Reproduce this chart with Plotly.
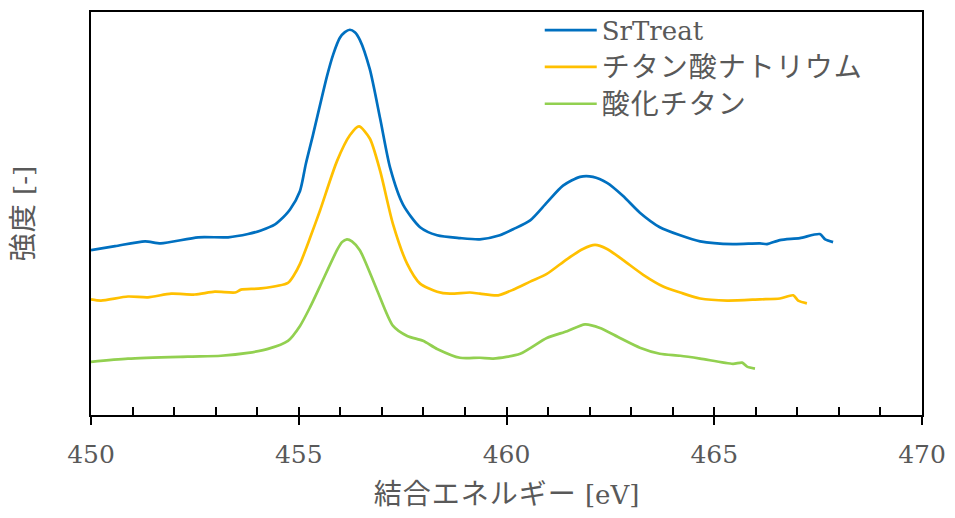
import plotly.graph_objects as go

# Binding energy (eV) and intensity (a.u., vertically offset) for each sample
sr_energy = [450.00, 450.58, 451.30, 451.68, 452.58, 453.30, 453.78, 454.09, 454.43, 454.55,
             454.79, 455.03, 455.17, 455.34, 455.68, 455.83, 455.99, 456.11, 456.23, 456.35,
             456.47, 456.71, 456.96, 457.20, 457.51,
             457.92, 458.33, 458.88, 459.36, 459.84, 460.16, 460.57, 460.97, 461.36, 461.77,
             462.08, 462.42, 462.80, 463.21, 463.69, 464.18, 464.66, 465.45, 466.10, 466.27,
             466.58, 467.06, 467.54, 467.67, 467.86]
sr_intensity = [40.9, 41.9, 43.1, 42.6, 44.1, 44.1, 44.9, 45.8, 47.3, 48.3,
                51.0, 55.6, 62.3, 69.4, 84.1, 89.5, 93.6, 95.0, 95.6, 95.0,
                93.1, 85.8, 73.5, 61.3, 52.2,
                46.6, 44.6, 43.9, 43.6, 44.6, 46.1, 48.3, 52.7, 56.9, 59.1,
                59.1, 57.6, 54.4, 50.2, 46.6, 44.6, 43.1, 42.4, 42.6, 42.4,
                43.4, 43.9, 44.9, 43.6, 42.9]

nato_energy = [450.00, 450.24, 450.89, 451.37, 451.93, 452.50, 452.98, 453.47, 453.61, 454.09,
               454.74, 454.89, 455.03, 455.27, 455.51, 455.92, 456.23, 456.45, 456.71, 456.96,
               457.27, 457.61,
               457.92, 458.33, 458.64, 459.12, 459.36, 459.80, 460.16, 460.57, 460.97, 461.46,
               461.84, 462.13, 462.42, 462.80, 463.29, 463.77, 464.18, 464.66, 465.31, 466.10,
               466.58, 466.90, 467.02, 467.23]
nato_intensity = [28.7, 28.4, 29.4, 29.2, 30.1, 29.9, 30.6, 30.4, 31.1, 31.4,
                  32.8, 34.8, 37.5, 43.9, 50.7, 63.0, 69.4, 71.6, 68.6, 60.5,
                  47.3, 37.5,
                  32.6, 30.6, 30.1, 30.4, 30.1, 29.7, 31.1, 33.1, 35.0, 38.7,
                  41.2, 42.2, 41.2, 38.5, 34.8, 31.9, 30.4, 28.9, 28.4, 28.7,
                  28.9, 29.7, 28.4, 27.7]

tio2_energy = [450.00, 450.89, 452.33, 453.13, 453.78, 454.26, 454.74, 455.03, 455.27, 455.51,
               455.92, 456.04, 456.16, 456.28, 456.47, 456.88, 457.27, 457.61, 457.99, 458.33,
               458.88, 459.36, 459.68,
               460.33, 460.97, 461.46, 461.89, 462.25, 462.73, 463.21, 463.69, 464.18, 464.66,
               465.45, 465.67, 465.79, 465.98]
tio2_intensity = [13.2, 14.0, 14.5, 14.7, 15.4, 16.4, 18.4, 22.1, 26.7, 31.9,
                  40.9, 42.9, 43.6, 43.1, 40.9, 31.1, 22.1, 19.6, 18.4, 16.4,
                  14.2, 14.2, 14.0,
                  15.2, 19.1, 20.8, 22.5, 21.6, 19.1, 16.7, 15.2, 14.7, 14.0,
                  12.7, 13.0, 12.0, 11.5]

series_names = ["SrTreat", "チタン酸ナトリウム", "酸化チタン"]
series_colors = ["#0070C0", "#FFC000", "#92D050"]

x_title = "結合エネルギー"
x_unit = " [eV]"
y_title = "強度"
y_unit = " [-]"
x_ticks = [450, 455, 460, 465, 470]

FONT = "DejaVu Serif, Noto Sans CJK JP, serif"
TEXT_COLOR = "#595959"
CJK_STYLE = "font-size:28px;letter-spacing:1px"


def cjk(text):
    """Wrap Japanese text so it is set a little larger and wider than Latin text."""
    if any(ord(ch) > 0x2E80 for ch in text):
        return f"<span style='{CJK_STYLE}'>{text}</span>"
    return text


fig = go.Figure()
for name, xs, ys, col in zip(series_names,
                             [sr_energy, nato_energy, tio2_energy],
                             [sr_intensity, nato_intensity, tio2_intensity],
                             series_colors):
    fig.add_trace(go.Scatter(
        x=xs, y=ys, name=cjk(name), mode="lines",
        line=dict(color=col, width=2.7, shape="spline", smoothing=0.7),
    ))

# minor / inside tick marks on an overlaid axis
fig.add_trace(go.Scatter(x=[450, 470], y=[None, None], xaxis="x2", showlegend=False,
                         hoverinfo="skip"))

fig.update_layout(
    width=955, height=518,
    margin=dict(l=91, r=33, t=7, b=103),
    paper_bgcolor="white", plot_bgcolor="white",
    font=dict(family=FONT, color=TEXT_COLOR, size=25),
    showlegend=True,
    legend=dict(
        x=0.54, y=1.013, xanchor="left", yanchor="top",
        bgcolor="rgba(0,0,0,0)", font=dict(size=26, family=FONT, color=TEXT_COLOR),
        itemwidth=52, tracegroupgap=0,
    ),
    xaxis=dict(
        range=[450, 470], tickvals=x_ticks, ticktext=[str(v) for v in x_ticks],
        ticks="outside", ticklen=8, tickwidth=1.5, tickcolor="black",
        ticklabelstandoff=8,
        showline=True, linecolor="black", linewidth=1.5, mirror=True,
        showgrid=False, zeroline=False,
        tickfont=dict(size=25, family=FONT, color=TEXT_COLOR),
        title=dict(text=cjk(x_title) + x_unit,
                   font=dict(size=26, family=FONT, color=TEXT_COLOR), standoff=18),
    ),
    xaxis2=dict(
        range=[450, 470], overlaying="x", anchor="y", side="bottom",
        dtick=1, tick0=450, ticks="inside", ticklen=8, tickwidth=1.5, tickcolor="black",
        showticklabels=False, showgrid=False, zeroline=False, showline=False,
    ),
    yaxis=dict(
        range=[0, 100], showticklabels=False, ticks="", showgrid=False, zeroline=False,
        showline=True, linecolor="black", linewidth=1.5, mirror=True,
        title=dict(text=cjk(y_title) + y_unit,
                   font=dict(size=26, family=FONT, color=TEXT_COLOR), standoff=48),
    ),
)

fig.write_html("out.html")
